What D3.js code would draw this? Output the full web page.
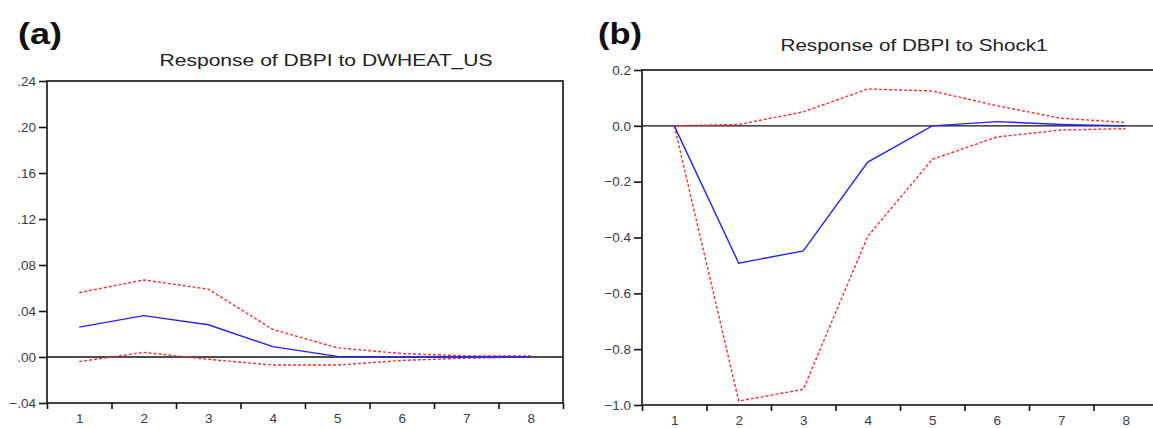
<!DOCTYPE html>
<html>
<head>
<meta charset="utf-8">
<script src="https://cdn.jsdelivr.net/npm/d3@7"></script>
<style>
  body { margin: 0; background: #fff; }
  svg { display: block; font-family: "Liberation Sans", Arial, sans-serif; }
  .frame { fill: none; stroke: #111; stroke-width: 1.6; }
  .zero { stroke: #111; stroke-width: 1.4; }
  .resp { fill: none; stroke: #2222ff; stroke-width: 1.4; }
  .band { fill: none; stroke: #ff2a2a; stroke-width: 1.4; stroke-dasharray: 3 2; }
  .axis path { display: none; }
  .axis line { stroke: #111; stroke-width: 1.6; }
  .axis text { fill: #3a3a4a; }
</style>
</head>
<body>
<svg width="1153" height="428"></svg>
<script>
const periods = [1, 2, 3, 4, 5, 6, 7, 8];

// (a) Response of DBPI to DWHEAT_US
const aResponse = [0.026, 0.036, 0.028, 0.009, 0.0005, 0.0, 0.0, 0.0];
const aUpper = [0.056, 0.067, 0.059, 0.024, 0.008, 0.003, 0.001, 0.001];
const aLower = [-0.004, 0.004, -0.002, -0.007, -0.007, -0.003, -0.001, 0.0];
const aTicks = [-0.04, 0.0, 0.04, 0.08, 0.12, 0.16, 0.20, 0.24];

// (b) Response of DBPI to Shock1
const bResponse = [0.0, -0.492, -0.448, -0.13, 0.0, 0.015, 0.005, 0.0];
const bUpper = [0.0, 0.005, 0.05, 0.132, 0.125, 0.072, 0.027, 0.012];
const bLower = [0.0, -0.986, -0.944, -0.396, -0.12, -0.04, -0.015, -0.01];
const bTicks = [-1.0, -0.8, -0.6, -0.4, -0.2, 0.0, 0.2];

const svg = d3.select("svg");

function panel(opts) {
    const g = svg.append("g");
    const x = d3.scaleLinear().domain([0.5, 8.5]).range([opts.left, opts.right]);
    const y = d3.scaleLinear().domain(opts.domain).range([opts.bottom, opts.top]);

    // letter + title (the source picture is a bit stretched sideways)
    g.append("text")
        .attr("x", opts.letterX).attr("y", 44)
        .attr("font-size", 29).attr("font-weight", "bold").attr("fill", "#111")
        .attr("textLength", 44).attr("lengthAdjust", "spacingAndGlyphs")
        .text(opts.letter);
    g.append("text")
        .attr("x", opts.titleX - opts.titleW / 2).attr("y", opts.titleY)
        .attr("font-size", 17).attr("fill", "#222")
        .attr("textLength", opts.titleW).attr("lengthAdjust", "spacingAndGlyphs")
        .text(opts.title);

    // y axis
    g.append("g").attr("class", "axis")
        .attr("transform", `translate(${opts.left},0)`)
        .call(d3.axisLeft(y).tickValues(opts.ticks).tickSize(8).tickPadding(3).tickFormat(opts.fmt))
        .attr("font-size", 13.5).attr("font-family", null);

    // x axis: ticks at band edges, labels at centers
    g.append("g").attr("class", "axis")
        .attr("transform", `translate(0,${opts.bottom})`)
        .call(d3.axisBottom(x).tickValues(d3.range(0.5, 9, 1)).tickSize(6).tickFormat(""));
    g.append("g").attr("class", "axis")
        .attr("transform", `translate(0,${opts.bottom})`)
        .call(d3.axisBottom(x).tickValues(periods).tickSize(0).tickPadding(10).tickFormat(d3.format("d")))
        .attr("font-size", 13.5).attr("font-family", null);

    // frame
    g.append("rect").attr("class", "frame")
        .attr("x", opts.left).attr("y", opts.top)
        .attr("width", opts.right - opts.left).attr("height", opts.bottom - opts.top);

    // zero line
    g.append("line").attr("class", "zero")
        .attr("x1", opts.left).attr("x2", opts.right)
        .attr("y1", y(0)).attr("y2", y(0));

    const line = d3.line().x((d, i) => x(periods[i])).y(d => y(d));
    g.append("path").attr("class", "band").attr("d", line(opts.upper));
    g.append("path").attr("class", "band").attr("d", line(opts.lower));
    g.append("path").attr("class", "resp").attr("d", line(opts.response));
}

panel({
    left: 47, right: 563, top: 81, bottom: 403,
    domain: [-0.04, 0.24], ticks: aTicks,
    fmt: d => d3.format(".2f")(d).replace("0.", "."),
    letter: "(a)", letterX: 18,
    title: "Response of DBPI to DWHEAT_US", titleX: 326, titleY: 66, titleW: 333,
    response: aResponse, upper: aUpper, lower: aLower
});

panel({
    left: 642, right: 1158, top: 70, bottom: 405,
    domain: [-1.0, 0.2], ticks: bTicks,
    fmt: d3.format(".1f"),
    letter: "(b)", letterX: 598,
    title: "Response of DBPI to Shock1", titleX: 914, titleY: 51, titleW: 267,
    response: bResponse, upper: bUpper, lower: bLower
});
</script>
</body>
</html>
